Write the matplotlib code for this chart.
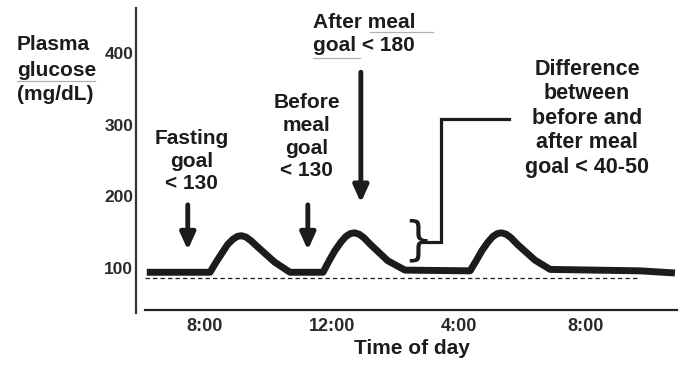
import matplotlib
matplotlib.use("Agg")
import matplotlib.pyplot as plt
from matplotlib.lines import Line2D

plt.rcParams['font.family'] = ['Liberation Sans', 'DejaVu Sans']

# hours of day vs plasma glucose (mg/dL)
hours = [6.17,
         8.16, 8.35, 8.54, 8.72, 8.88, 9.02, 9.15, 9.30, 9.45, 9.67, 10.20, 10.68,
         11.72, 11.91, 12.09, 12.28, 12.44, 12.58, 12.71, 12.86, 13.01, 13.23, 13.76, 14.30,
         16.35, 16.54, 16.72, 16.91, 17.07, 17.21, 17.34, 17.49, 17.64, 17.86, 18.39, 18.87,
         21.70, 22.80]
glucose = [94,
           94, 108, 121, 133, 140, 144, 145, 143, 138, 129, 108, 94,
           94, 110, 124, 136, 144, 148, 149, 147, 142, 132, 110, 97,
           96, 110, 124, 136, 144, 148, 149, 147, 142, 132, 111, 98,
           96, 93]

dash_x = [6.1, 21.7]
dash_y = [86, 86]

yticks = [100, 200, 300, 400]
xticks = [8, 12, 16, 20]
xtick_labels = ["8:00", "12:00", "4:00", "8:00"]

ink = '#1c1c1c'

fig = plt.figure(figsize=(6.81, 3.68), dpi=100)
ax = fig.add_axes([136/681, 55/368, 545/681, 305/368])
ax.set_xlim(5.83, 22.99)
ax.set_ylim(37.2, 462.6)

ax.plot(hours, glucose, color=ink, lw=5, solid_joinstyle='round', solid_capstyle='butt')
ax.plot(dash_x, dash_y, color=ink, lw=0.9, dashes=(3.5, 2.5))

for s in ['top', 'right']:
    ax.spines[s].set_visible(False)
ax.spines['left'].set_color('#333333')
ax.spines['left'].set_linewidth(1.6)
ax.spines['bottom'].set_position(('data', 41.4))
ax.spines['bottom'].set_bounds(6.1, 22.85)
ax.spines['bottom'].set_color('#222222')
ax.spines['bottom'].set_linewidth(1.6)

ax.set_yticks(yticks)
ax.set_yticklabels([str(v) for v in yticks], fontsize=12.5, fontweight='bold', color='#2a2a2a')
ax.set_xticks(xticks)
ax.set_xticklabels(xtick_labels, fontsize=13, fontweight='bold', color='#2a2a2a')
ax.tick_params(axis='y', length=0, pad=2)
ax.tick_params(axis='x', length=0, pad=6)

ax.text(0.506, -0.115, "Time of day", transform=ax.transAxes, ha='center', va='center',
        fontsize=15, fontweight='bold', color=ink)

fig.text(17/681, 1 - 70/368, "Plasma\nglucose\n(mg/dL)", ha='left', va='center',
         fontsize=15, fontweight='bold', color=ink, linespacing=1.4)

# annotations
ax.text(7.59, 249, "Fasting\ngoal\n< 130", ha='center', va='center', fontsize=15,
        fontweight='bold', color=ink, linespacing=1.25)
ax.text(11.21, 283, "Before\nmeal\ngoal\n< 130", ha='center', va='center', fontsize=15,
        fontweight='bold', color=ink, linespacing=1.25)
ax.text(11.40, 426, "After meal\ngoal < 180", ha='left', va='center', fontsize=15,
        fontweight='bold', color=ink, linespacing=1.3)
ax.text(20.03, 309, "Difference\nbetween\nbefore and\nafter meal\ngoal < 40-50", ha='center',
        va='center', fontsize=15.5, fontweight='bold', color=ink, linespacing=1.22)

arr = dict(arrowstyle='-|>,head_length=1.0,head_width=0.45', lw=3.5, color=ink,
           shrinkA=0, shrinkB=0)
ax.annotate('', xy=(7.46, 125), xytext=(7.46, 188), arrowprops=arr)
ax.annotate('', xy=(11.24, 125), xytext=(11.24, 188), arrowprops=arr)
ax.annotate('', xy=(12.91, 191), xytext=(12.91, 373), arrowprops=arr)

# bracket to the difference label
ax.plot([14.87, 15.43, 15.43, 17.57], [136, 136, 308, 308], color=ink, lw=2.3,
        solid_joinstyle='miter')
ax.text(14.70, 138, "}", ha='center', va='center', fontsize=33, color=ink,
        family='DejaVu Sans')

# grey link underlines
for x0, x1, y in [(17, 95, 81), (370, 433, 32), (313, 360, 58)]:
    fig.add_artist(Line2D([x0/681, x1/681], [1 - y/368, 1 - y/368],
                          transform=fig.transFigure, color='#b0b0b0', lw=0.9))

fig.savefig("out.png", dpi=100)
